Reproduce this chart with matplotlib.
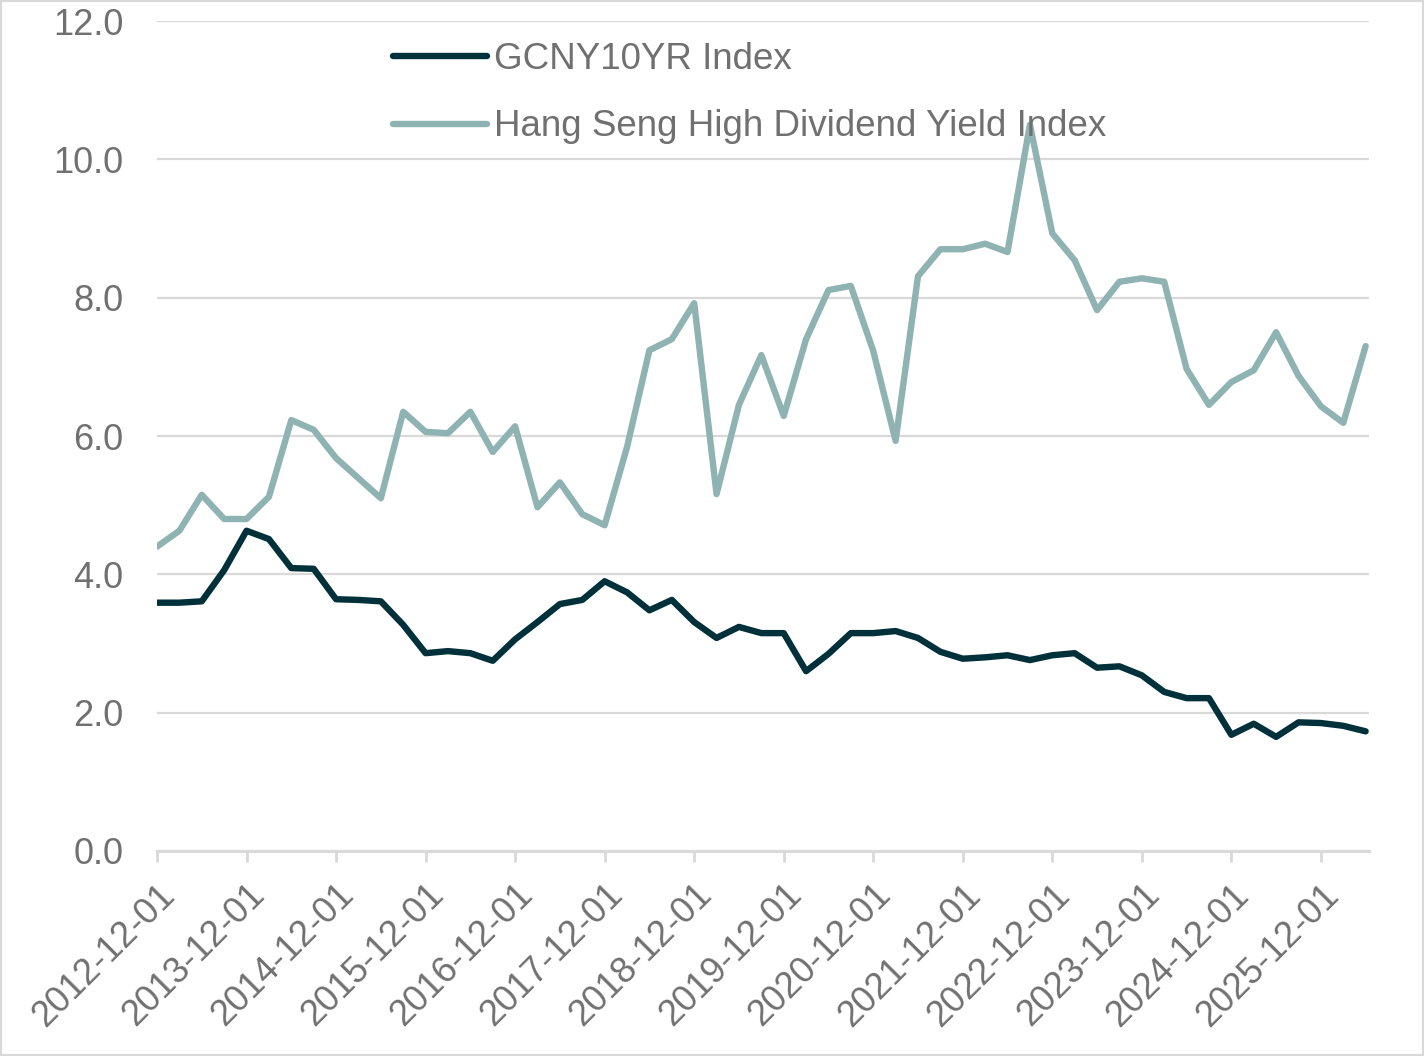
import pandas as pd
import matplotlib
matplotlib.use('Agg')
import matplotlib.pyplot as plt
from matplotlib.patches import Rectangle

# quarterly observations, 2012-12-01 .. 2026-06-01
dates = pd.date_range('2012-12-01', periods=55, freq='3MS')

gcny10yr = [3.59, 3.59, 3.61, 4.06, 4.63, 4.51, 4.09, 4.08, 3.64, 3.63,
            3.61, 3.27, 2.86, 2.89, 2.86, 2.75, 3.06, 3.31, 3.57, 3.63,
            3.90, 3.74, 3.48, 3.63, 3.31, 3.08, 3.24, 3.15, 3.15, 2.60,
            2.85, 3.15, 3.15, 3.18, 3.08, 2.88, 2.78, 2.80, 2.83, 2.76,
            2.83, 2.86, 2.65, 2.67, 2.54, 2.30, 2.21, 2.21, 1.68, 1.84,
            1.65, 1.86, 1.85, 1.81, 1.73]

hs_high_div = [4.40, 4.63, 5.15, 4.80, 4.80, 5.12, 6.23, 6.09, 5.68, 5.39,
               5.10, 6.35, 6.06, 6.04, 6.35, 5.77, 6.14, 4.97, 5.33, 4.87,
               4.71, 5.84, 7.24, 7.40, 7.92, 5.16, 6.45, 7.17, 6.29, 7.40,
               8.11, 8.17, 7.23, 5.93, 8.31, 8.70, 8.70, 8.78, 8.66, 10.50,
               8.93, 8.54, 7.82, 8.23, 8.28, 8.23, 6.97, 6.45, 6.78, 6.95,
               7.50, 6.87, 6.43, 6.19, 7.30]

series_names = ['GCNY10YR Index', 'Hang Seng High Dividend Yield Index']
colors = ['#00313a', '#8fb3b2']
text_color = '#707070'
grid_color = '#d9d9d9'

plt.rcParams['font.family'] = ['Liberation Sans', 'DejaVu Sans']

fig = plt.figure(figsize=(14.24, 10.56), dpi=100)
ax = fig.add_axes([157 / 1424, 1 - 851 / 1056, (1369 - 157) / 1424, (851 - 21) / 1056])

x = list(range(len(dates)))
ax.plot(x, gcny10yr, color=colors[0], lw=4.6, label=series_names[0], solid_capstyle='round')
ax.plot(x, hs_high_div, color=colors[1], lw=4.6, label=series_names[1], solid_capstyle='round')

ax.set_ylim(0, 12)
ax.set_xlim(0, len(dates) - 0.85)
ax.set_yticks([0, 2, 4, 6, 8, 10, 12])
ax.set_yticklabels([f'{v:.1f}' for v in [0, 2, 4, 6, 8, 10, 12]])
ax.yaxis.grid(True, color=grid_color, lw=1.6)
ax.set_axisbelow(True)

tick_pos = [i for i, d in enumerate(dates) if d.month == 12]
ax.set_xticks(tick_pos)
ax.set_xticklabels([dates[i].strftime('%Y-%m-%d') for i in tick_pos],
                   rotation=45, ha='right', rotation_mode='anchor')

for s in ['left', 'right', 'top']:
    ax.spines[s].set_visible(False)
ax.spines['bottom'].set_color(grid_color)
ax.spines['bottom'].set_linewidth(2.2)

ax.tick_params(axis='y', length=0, pad=24, labelsize=26, labelcolor=text_color)
ax.tick_params(axis='x', length=8, width=2, color=grid_color, pad=11,
               labelsize=26, labelcolor=text_color)

leg = ax.legend(loc='upper left', bbox_to_anchor=(393 / 1424, 1 - 42 / 1056),
                bbox_transform=fig.transFigure, frameon=False, fontsize=26.5,
                handlelength=2.55, handletextpad=0.2, labelspacing=0.88,
                borderaxespad=0, borderpad=0)
for t in leg.get_texts():
    t.set_color(text_color)

fig.patches.append(Rectangle((0, 0), 1, 1, transform=fig.transFigure, fill=False,
                             edgecolor=grid_color, lw=3))

fig.savefig('out.png', dpi=100)
